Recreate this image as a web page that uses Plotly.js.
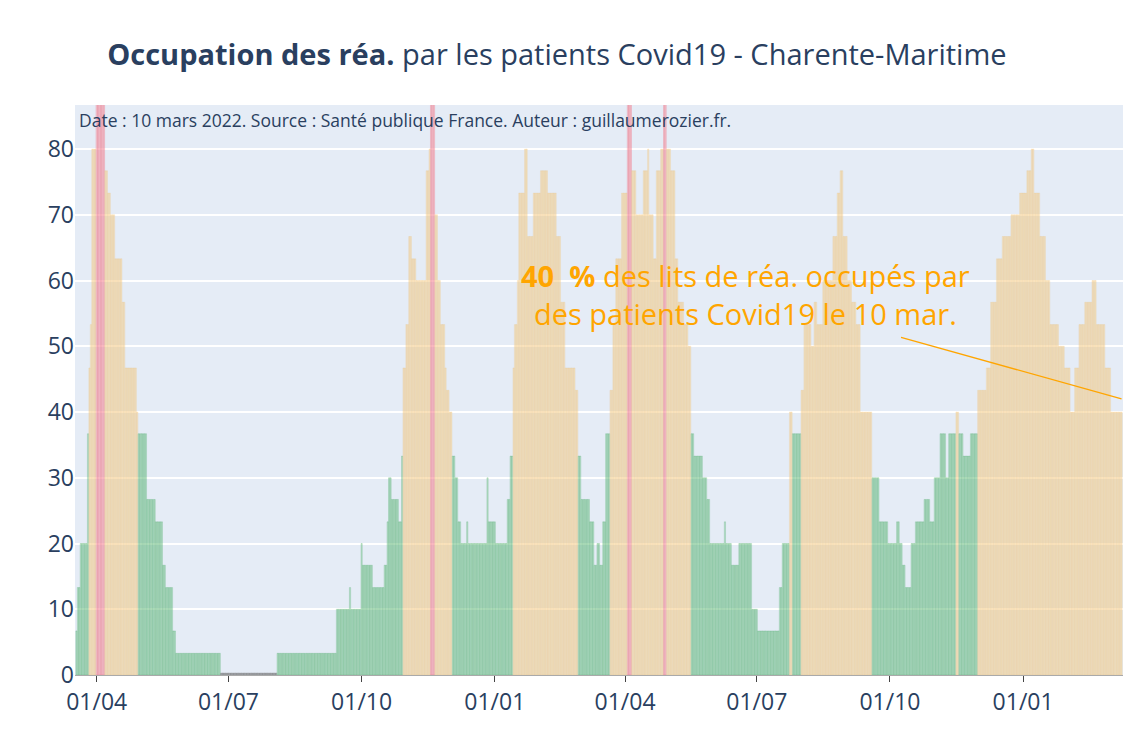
<!DOCTYPE html>
<html>
<head>
<meta charset="utf-8">
<script src="https://cdn.plot.ly/plotly-3.0.1.min.js"></script>
<style>body{margin:0;} #chart{width:1125px;height:750px;}</style>
</head>
<body>
<div id="chart"></div>
<script>
// Taux d'occupation (%) par palier : jour de début (depuis le 18/03/2020) et valeur
const startDate = '2020-03-18';
const lastDay = 722; // 10/03/2022
const stepDays = [0,1,3,8,9,10,11,14,20,22,24,27,32,34,42,43,49,55,60,62,67,69,100,139,180,189,190,197,198,205,213,215,216,218,223,225,226,228,230,232,235,242,244,245,248,250,252,255,256,258,260,262,264,266,270,271,284,285,290,298,300,302,303,305,306,310,312,316,321,326,332,335,338,345,347,349,355,358,360,362,364,366,369,371,373,377,381,384,387,392,395,396,399,401,404,406,408,411,414,416,420,423,425,427,433,436,438,448,449,453,458,467,471,486,488,493,495,501,503,508,510,512,516,523,526,528,530,533,536,539,542,550,555,561,567,569,571,573,577,580,586,590,593,597,601,603,608,610,613,618,623,629,632,636,640,646,652,657,660,662,666,670,673,679,683,687,690,693,697,702,705,711,715];
const stepValues = [6.7,13.3,20,36.7,46.7,53.3,80,90,76.7,73.3,70,63.3,56.7,46.7,40,36.7,26.7,23.3,16.7,13.3,6.7,3.3,0.3,3.3,10,13.3,10,20,16.7,13.3,16.7,23.3,30,26.7,23.3,33.3,46.7,53.3,66.7,63.3,60,76.7,80,90,70,60,53.3,46.7,43.3,40,33.3,30,23.3,20,23.3,20,30,23.3,20,26.7,33.3,46.7,53.3,60,73.3,80,66.7,73.3,76.7,73.3,66.7,56.7,46.7,43.3,33.3,26.7,23.3,16.7,20,16.7,23.3,36.7,43.3,53.3,63.3,73.3,90,76.7,70,76.7,80,70,63.3,76.7,80,90,80,76.7,63.3,56.7,53.3,50,36.7,33.3,30,26.7,20,23.3,20,16.7,20,10,6.7,13.3,20,40,36.7,43.3,53.3,50,56.7,53.3,60,66.7,73.3,76.7,66.7,60,56.7,53.3,40,30,23.3,20,23.3,20,16.7,13.3,20,23.3,26.7,23.3,30,36.7,30,36.7,40,36.7,33.3,36.7,43.3,46.7,56.7,63.3,66.7,70,73.3,76.7,80,73.3,66.7,60,53.3,50,46.7,40,46.7,53.3,56.7,60,53.3,46.7,40];

const dates = [];
const values = [];
const t0 = new Date(startDate + 'T00:00:00Z');
let s = 0;
for (let d = 0; d <= lastDay; d++) {
    while (s + 1 < stepDays.length && stepDays[s + 1] <= d) s++;
    dates.push(new Date(t0.getTime() + d * 86400000).toISOString().slice(0, 10));
    values.push(stepValues[s]);
}

function fillColor(v) {
    if (v < 1) return 'rgba(120,120,120,0.4)';
    if (v > 80) return 'rgba(255,190,200,0.5)';
    if (v >= 40) return 'rgba(255,210,130,0.4)';
    return 'rgba(120,200,140,0.4)';
}
function lineColor(v) {
    if (v < 1) return 'rgba(100,100,100,0.6)';
    if (v > 80) return 'rgba(230,90,110,0.6)';
    if (v >= 40) return 'rgba(235,195,130,0.5)';
    return 'rgba(60,160,90,0.45)';
}

const trace = {
    x: dates,
    y: values,
    type: 'bar',
    marker: {
        color: values.map(fillColor),
        line: { color: values.map(lineColor), width: 0.5 }
    },
    hoverinfo: 'x+y'
};

const layout = {
    width: 1125,
    height: 750,
    font: { family: 'Open Sans', color: '#2a3f5f' },
    title: {
        text: '<b>Occupation des réa.</b> par les patients Covid19 - Charente-Maritime',
        font: { size: 29, color: '#2a3f5f' },
        x: 0.495, xanchor: 'center', y: 0.94
    },
    paper_bgcolor: '#ffffff',
    plot_bgcolor: '#e5ecf6',
    bargap: 0.15,
    showlegend: false,
    margin: { l: 75, r: 2, t: 105, b: 75 },
    xaxis: {
        type: 'date',
        tickformat: '%d/%m',
        dtick: 'M3',
        tick0: '2020-04-01',
        ticks: 'outside',
        ticklen: 6,
        tickcolor: '#444',
        tickfont: { size: 23 },
        showgrid: false,
        showline: true,
        linecolor: '#aaa',
        range: ['2020-03-17', '2022-03-11']
    },
    yaxis: {
        range: [0, 86.7],
        dtick: 10,
        gridcolor: '#ffffff',
        gridwidth: 1.5,
        tickfont: { size: 23 },
        zeroline: false
    },
    annotations: [
        {
            text: 'Date : 10 mars 2022. Source : Santé publique France. Auteur : guillaumerozier.fr.',
            xref: 'paper', yref: 'paper', x: 0.002, y: 0.998,
            xanchor: 'left', yanchor: 'top', showarrow: false,
            font: { size: 17.5, color: '#2a3f5f' }
        },
        {
            text: '<b>40  %</b> des lits de réa. occupés par<br>des patients Covid19 le 10 mar.',
            xref: 'paper', yref: 'paper', x: 0.64, y: 0.667,
            xanchor: 'center', yanchor: 'middle', showarrow: false,
            font: { size: 29, color: 'orange' }
        },
        {
            text: '',
            x: dates[dates.length - 1], y: 42,
            showarrow: true, arrowhead: 0, arrowwidth: 1.3, arrowcolor: 'orange',
            ax: -222, ay: -62
        }
    ]
};

Plotly.newPlot('chart', [trace], layout, { displayModeBar: false });
</script>
</body>
</html>
